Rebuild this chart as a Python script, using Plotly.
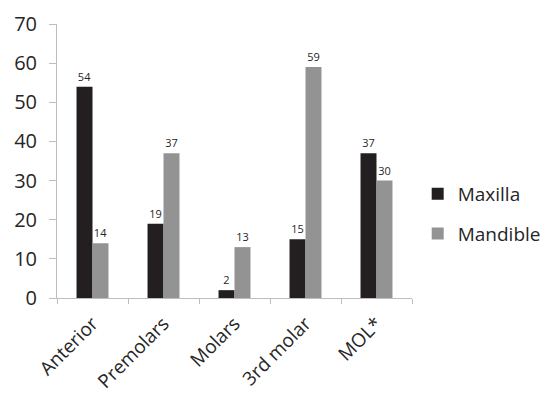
import plotly.graph_objects as go

categories = ["Anterior", "Premolars", "Molars", "3rd molar", "MOL*"]
maxilla = [54, 19, 2, 15, 37]
mandible = [14, 37, 13, 59, 30]
y_ticks = [0, 10, 20, 30, 40, 50, 60, 70]

text_color = "#262626"
axis_color = "#bdbdbd"

fig = go.Figure()
fig.add_trace(go.Bar(
    name="Maxilla", x=categories, y=maxilla, legendgroup="max",
    marker=dict(color="#231f20", line=dict(width=0)),
    text=[str(v) for v in maxilla], textposition="outside",
    textfont=dict(size=11, color=text_color, family="Open Sans"),
    cliponaxis=False,
))
fig.add_trace(go.Bar(
    name="Mandible", x=categories, y=mandible, legendgroup="man",
    marker=dict(color="#939393", line=dict(width=0)),
    text=[str(v) for v in mandible], textposition="outside",
    textfont=dict(size=11, color=text_color, family="Open Sans"),
    cliponaxis=False,
))

fig.update_layout(
    width=546, height=400,
    paper_bgcolor="white", plot_bgcolor="white",
    margin=dict(l=57, r=134, t=24, b=102, autoexpand=False),
    barmode="group", bargap=0.55, bargroupgap=0,
    font=dict(family="Open Sans", color=text_color),
    showlegend=True,
    legend=dict(
        xref="container", yref="container",
        x=0.765, xanchor="left", y=0.465, yanchor="middle",
        font=dict(size=19, color=text_color),
        itemsizing="constant", itemwidth=30, tracegroupgap=12,
        bgcolor="rgba(0,0,0,0)",
    ),
    uniformtext=dict(minsize=11, mode="show"),
)
fig.update_xaxes(
    type="category", tickson="boundaries",
    showline=True, linecolor=axis_color, linewidth=1,
    ticks="outside", ticklen=5, tickcolor=axis_color,
    ticklabelstandoff=6,
    tickangle=-45, tickfont=dict(size=19, color=text_color),
    showgrid=False, zeroline=False,
)
fig.update_yaxes(
    range=[0, 70], tickvals=y_ticks,
    showline=True, linecolor=axis_color, linewidth=1,
    ticks="outside", ticklen=7, tickcolor=axis_color,
    ticklabelstandoff=8,
    tickfont=dict(size=20, color=text_color),
    showgrid=False, zeroline=False,
)

fig.write_html("out.html")
